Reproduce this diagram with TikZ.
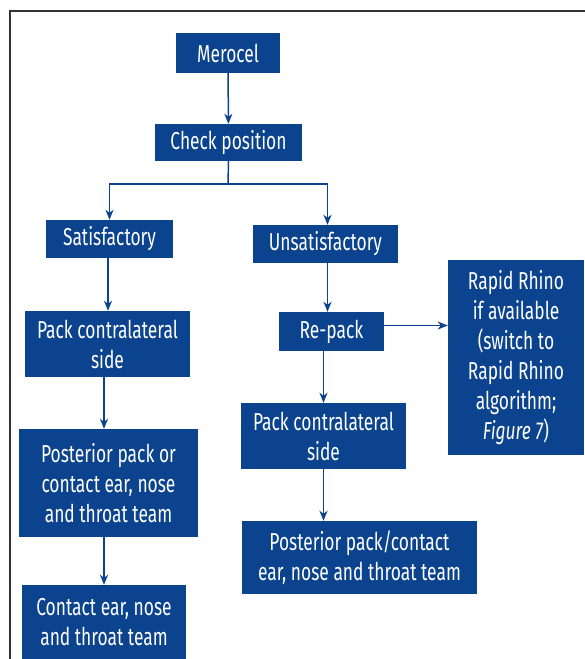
\documentclass[tikz,border=0pt]{standalone}
\usepackage{fontspec}
\setmainfont{Fira Sans}[FakeStretch=0.71]
\usetikzlibrary{arrows.meta}
\definecolor{boxblue}{RGB}{11,67,142}
\definecolor{framegray}{RGB}{51,51,51}
\tikzset{
  bluebox/.style={fill=boxblue,text=white,align=center,inner sep=0pt,
    font=\fontsize{24.5}{30}\selectfont},
  conn/.style={draw=boxblue,line width=1.5pt,-{Stealth[length=10pt,width=8pt,inset=3pt]}}
}
\begin{document}
\begin{tikzpicture}[x=1pt,y=-1pt]
\useasboundingbox (0,0) rectangle (585,659);
\draw[framegray,line width=1.5pt] (10,659) -- (10,11) -- (585,11); % edit here for the frame
% left column
\node[bluebox,minimum width=104,minimum height=40] (merocel) at (228,53) {Merocel};
\node[bluebox,minimum width=147,minimum height=37] (check) at (228.5,142.5) {Check position};
\node[bluebox,minimum width=127,minimum height=38] (sat) at (109.5,239) {Satisfactory};
\node[bluebox,minimum width=165,minimum height=66] (packL) at (107.5,344) {Pack contralateral\\side};
\node[bluebox,minimum width=179,minimum height=108] (postL) at (108.5,483) {Posterior pack or\\contact ear, nose\\and throat team};
\node[bluebox,minimum width=164,minimum height=75] (contact) at (104,622.5) {Contact ear, nose\\and throat team};
% right column
\node[bluebox,minimum width=145,minimum height=38] (unsat) at (325.5,244) {Unsatisfactory};
\node[bluebox,minimum width=105,minimum height=39] (repack) at (331.5,331.5) {Re-pack};
\node[bluebox,minimum width=136,minimum height=195] (rhino) at (516,357.5) {Rapid Rhino\\if available\\(switch to\\Rapid Rhino\\algorithm;\\\textit{Figure 7})};
\node[bluebox,minimum width=165,minimum height=66] (packR) at (323.5,436) {Pack contralateral\\side};
\node[bluebox,minimum width=235,minimum height=73] (postR) at (359.5,557.5) {Posterior pack/contact\\ear, nose and throat team};
% connectors
\coordinate (split) at (228,184);
\draw[conn] (merocel) -- (check);
\draw[draw=boxblue,line width=1.5pt] (check.south) -- (split);
\draw[conn] (split) -| (sat.north);
\draw[conn] (split) -| ([xshift=2]unsat.north);
\draw[conn] ([xshift=-1.5]sat.south) -- ([xshift=-1.5]sat.south |- packL.north);
\draw[conn] ([xshift=-3.5]packL.south) -- ([xshift=-3.5]packL.south |- postL.north);
\draw[conn] (contact.north |- postL.south) -- (contact.north);
\draw[conn] ([xshift=2]unsat.south) -- ([xshift=2]unsat.south |- repack.north);
\draw[conn] ([yshift=6]repack.east) -- ([yshift=6]repack.east -| rhino.west);
\draw[conn] (packR.north |- repack.south) -- (packR.north);
\draw[conn] (packR.south) -- (packR.south |- postR.north);
\end{tikzpicture}
\end{document}
